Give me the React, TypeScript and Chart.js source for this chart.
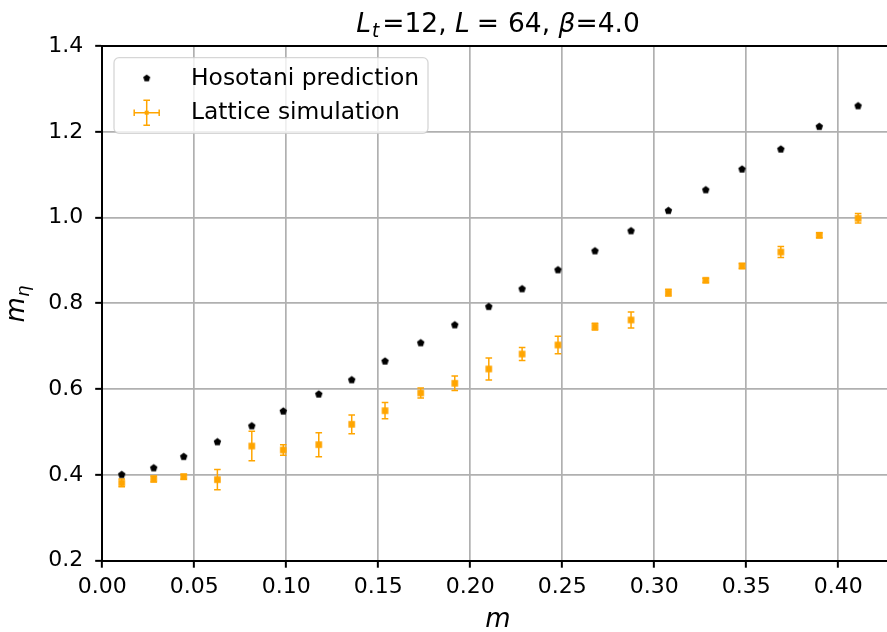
import { useEffect, useRef } from "react";
import { Chart, registerables } from "chart.js";

Chart.register(...registerables);

// ---- data ----
const mValues = [
  0.0106, 0.028, 0.0443, 0.0626, 0.0813, 0.0984, 0.1177, 0.1356, 0.1537, 0.1731, 0.1916,
  0.2101, 0.2282, 0.2477, 0.2678, 0.2874, 0.3077, 0.328, 0.3477, 0.3688, 0.3897, 0.4108,
];
const hosotani = [
  0.4005, 0.416, 0.4425, 0.4768, 0.514, 0.5483, 0.588, 0.6213, 0.665, 0.7076, 0.7495,
  0.7922, 0.8335, 0.8778, 0.922, 0.9687, 1.016, 1.0643, 1.1126, 1.1592, 1.2119, 1.2602,
];
const lattice = [
  0.3812, 0.3905, 0.3958, 0.3889, 0.4674, 0.4581, 0.4705, 0.518, 0.5497, 0.591, 0.6136,
  0.647, 0.6819, 0.7029, 0.7456, 0.7612, 0.8249, 0.8538, 0.8871, 0.9197, 0.9587, 0.9983,
];
const latticeErr = [
  0.009, 0.007, 0.006, 0.0235, 0.0346, 0.012, 0.028, 0.0218, 0.019, 0.0117, 0.0168,
  0.0256, 0.0152, 0.0205, 0.008, 0.0187, 0.008, 0.005, 0.006, 0.013, 0.006, 0.011,
];
const xTicks = [0, 0.05, 0.1, 0.15, 0.2, 0.25, 0.3, 0.35, 0.4];
const yTicks = [0.2, 0.4, 0.6, 0.8, 1.0, 1.2, 1.4];
const seriesNames = ["Hosotani prediction", "Lattice simulation"];

const ORANGE = "#ffa500";
const FONT = "'DejaVu Sans', sans-serif";

function makePentagon(r: number, color: string) {
  const size = Math.ceil(2 * r + 3);
  const c = document.createElement("canvas");
  c.width = size;
  c.height = size;
  const ctx = c.getContext("2d")!;
  ctx.beginPath();
  for (let i = 0; i < 5; i++) {
    const a = -Math.PI / 2 + (i * 2 * Math.PI) / 5;
    ctx.lineTo(size / 2 + r * Math.cos(a), size / 2 + r * Math.sin(a));
  }
  ctx.closePath();
  ctx.fillStyle = color;
  ctx.fill();
  return c;
}

function makeSquare(side: number, color: string) {
  const size = Math.ceil(side + 2);
  const c = document.createElement("canvas");
  c.width = size;
  c.height = size;
  const ctx = c.getContext("2d")!;
  ctx.fillStyle = color;
  ctx.fillRect((size - side) / 2, (size - side) / 2, side, side);
  return c;
}

type Seg = { t: string; it?: boolean; sub?: boolean; gap?: number };

function drawSegs(ctx: CanvasRenderingContext2D, segs: Seg[], cx: number, baseline: number, size: number) {
  const subSize = size * 0.7;
  const fontOf = (s: Seg) => `${s.it ? "italic " : ""}${s.sub ? subSize : size}px ${FONT}`;
  let total = 0;
  const widths = segs.map((s) => {
    ctx.font = fontOf(s);
    const w = ctx.measureText(s.t).width + (s.gap || 0);
    total += w;
    return w;
  });
  let x = cx - total / 2;
  ctx.textAlign = "left";
  ctx.textBaseline = "alphabetic";
  ctx.fillStyle = "#000";
  segs.forEach((s, i) => {
    ctx.font = fontOf(s);
    ctx.fillText(s.t, x, baseline + (s.sub ? size * 0.2 : 0));
    x += widths[i];
  });
}

const decorPlugin = {
  id: "decor",
  beforeDatasetsDraw(chart: any) {
    const ctx = chart.ctx as CanvasRenderingContext2D;
    const xs = chart.scales.x;
    const ys = chart.scales.y;
    const area = chart.chartArea;
    ctx.save();
    ctx.beginPath();
    ctx.rect(area.left, area.top, area.right - area.left, area.bottom - area.top);
    ctx.clip();
    ctx.strokeStyle = ORANGE;
    ctx.lineWidth = 1.5;
    for (let i = 0; i < mValues.length; i++) {
      const x = xs.getPixelForValue(mValues[i]);
      const y1 = ys.getPixelForValue(lattice[i] - latticeErr[i]);
      const y2 = ys.getPixelForValue(lattice[i] + latticeErr[i]);
      ctx.beginPath();
      ctx.moveTo(x, y1);
      ctx.lineTo(x, y2);
      ctx.moveTo(x - 3.3, y1);
      ctx.lineTo(x + 3.3, y1);
      ctx.moveTo(x - 3.3, y2);
      ctx.lineTo(x + 3.3, y2);
      ctx.stroke();
    }
    ctx.restore();
  },
  afterDraw(chart: any) {
    const ctx = chart.ctx as CanvasRenderingContext2D;
    const area = chart.chartArea;
    ctx.save();
    // top spine
    ctx.strokeStyle = "#000";
    ctx.lineWidth = 2;
    ctx.beginPath();
    ctx.moveTo(area.left - 1, area.top);
    ctx.lineTo(area.right, area.top);
    ctx.stroke();

    // legend
    const lx = 114, ly = 57.7, lw = 314, lh = 75.6, r = 5;
    ctx.beginPath();
    ctx.moveTo(lx + r, ly);
    ctx.arcTo(lx + lw, ly, lx + lw, ly + lh, r);
    ctx.arcTo(lx + lw, ly + lh, lx, ly + lh, r);
    ctx.arcTo(lx, ly + lh, lx, ly, r);
    ctx.arcTo(lx, ly, lx + lw, ly, r);
    ctx.closePath();
    ctx.fillStyle = "rgba(255,255,255,0.8)";
    ctx.fill();
    ctx.strokeStyle = "rgba(204,204,204,0.8)";
    ctx.lineWidth = 1.3;
    ctx.stroke();

    const pent = makePentagon(3.7, "#000");
    ctx.drawImage(pent, 146.7 - pent.width / 2, 78.3 - pent.height / 2);

    const ey = 112.7, ex = 146.7;
    ctx.strokeStyle = ORANGE;
    ctx.lineWidth = 1.5;
    ctx.beginPath();
    ctx.moveTo(ex - 12.5, ey);
    ctx.lineTo(ex + 12.5, ey);
    ctx.moveTo(ex, ey - 12.5);
    ctx.lineTo(ex, ey + 12.5);
    ctx.moveTo(ex - 12.5, ey - 3.3);
    ctx.lineTo(ex - 12.5, ey + 3.3);
    ctx.moveTo(ex + 12.5, ey - 3.3);
    ctx.lineTo(ex + 12.5, ey + 3.3);
    ctx.moveTo(ex - 3.3, ey - 12.5);
    ctx.lineTo(ex + 3.3, ey - 12.5);
    ctx.moveTo(ex - 3.3, ey + 12.5);
    ctx.lineTo(ex + 3.3, ey + 12.5);
    ctx.stroke();
    ctx.fillStyle = ORANGE;
    ctx.fillRect(ex - 2, ey - 2, 4, 4);

    ctx.fillStyle = "#000";
    ctx.font = `23.4px ${FONT}`;
    ctx.textAlign = "left";
    ctx.textBaseline = "middle";
    ctx.fillText(seriesNames[0], 191, 79);
    ctx.fillText(seriesNames[1], 191, 113);

    // title
    drawSegs(
      ctx,
      [
        { t: "L", it: true, gap: 1 },
        { t: "t", it: true, sub: true, gap: 3 },
        { t: "=12, " },
        { t: "L", it: true, gap: 7 },
        { t: "=", gap: 9 },
        { t: "64" },
        { t: ", " },
        { t: "β", it: true },
        { t: "=4.0" },
      ],
      498,
      32,
      26.5
    );

    // x label
    drawSegs(ctx, [{ t: "m", it: true }], 498, 627, 26);

    // y label
    ctx.save();
    ctx.translate(23.5, 304);
    ctx.rotate(-Math.PI / 2);
    drawSegs(
      ctx,
      [
        { t: "m", it: true },
        { t: "η", it: true, sub: true },
      ],
      0,
      0,
      26
    );
    ctx.restore();
    ctx.restore();
  },
};

export default function App() {
  const ref = useRef<HTMLCanvasElement>(null);

  useEffect(() => {
    const canvas = ref.current!;
    const pent = makePentagon(3.9, "#000");
    const sq = makeSquare(6.6, ORANGE);
    const tickFont = { family: FONT, size: 22 };
    const chart = new Chart(canvas, {
      type: "scatter",
      data: {
        datasets: [
          {
            label: seriesNames[0],
            data: mValues.map((x, i) => ({ x, y: hosotani[i] })),
            pointStyle: pent as any,
            pointRadius: 5,
            pointHoverRadius: 5,
            showLine: false,
          },
          {
            label: seriesNames[1],
            data: mValues.map((x, i) => ({ x, y: lattice[i] })),
            pointStyle: sq as any,
            pointRadius: 4,
            pointHoverRadius: 4,
            showLine: false,
          },
        ],
      },
      options: {
        animation: false,
        responsive: false,
        devicePixelRatio: 1,
        layout: { autoPadding: false, padding: { top: 46, left: 0, right: 0, bottom: 0 } },
        plugins: {
          legend: { display: false },
          title: { display: false },
          tooltip: { enabled: false },
        },
        scales: {
          x: {
            type: "linear",
            min: 0,
            max: 0.4265,
            afterBuildTicks: (s: any) => {
              s.ticks = xTicks.map((v) => ({ value: v }));
            },
            afterFit: (s: any) => {
              s.height = 71.3;
              s.paddingRight = 0;
              s.paddingLeft = 0;
            },
            ticks: {
              callback: (v: any) => Number(v).toFixed(2),
              color: "#000",
              font: tickFont,
              padding: 6,
              maxRotation: 0,
              autoSkip: false,
            },
            grid: {
              color: "#b0b0b0",
              lineWidth: 1.7,
              tickColor: "#000",
              tickLength: 7,
              tickWidth: 2,
            },
            border: { color: "#000", width: 2 },
          },
          y: {
            type: "linear",
            min: 0.2,
            max: 1.4,
            afterBuildTicks: (s: any) => {
              s.ticks = yTicks.map((v) => ({ value: v }));
            },
            afterFit: (s: any) => {
              s.width = 102.2;
              s.paddingTop = 0;
              s.paddingBottom = 0;
            },
            ticks: {
              callback: (v: any) => Number(v).toFixed(1),
              color: "#000",
              font: tickFont,
              padding: 12,
              autoSkip: false,
            },
            grid: {
              color: "#b0b0b0",
              lineWidth: 1.7,
              tickColor: "#000",
              tickLength: 7,
              tickWidth: 2,
            },
            border: { color: "#000", width: 2 },
          },
        },
      },
      plugins: [decorPlugin],
    });
    return () => chart.destroy();
  }, []);

  return (
    <div style={{ position: "absolute", left: 0, top: 0, width: 887, height: 632, background: "#fff" }}>
      <canvas ref={ref} width={887} height={632} style={{ display: "block" }} />
    </div>
  );
}
